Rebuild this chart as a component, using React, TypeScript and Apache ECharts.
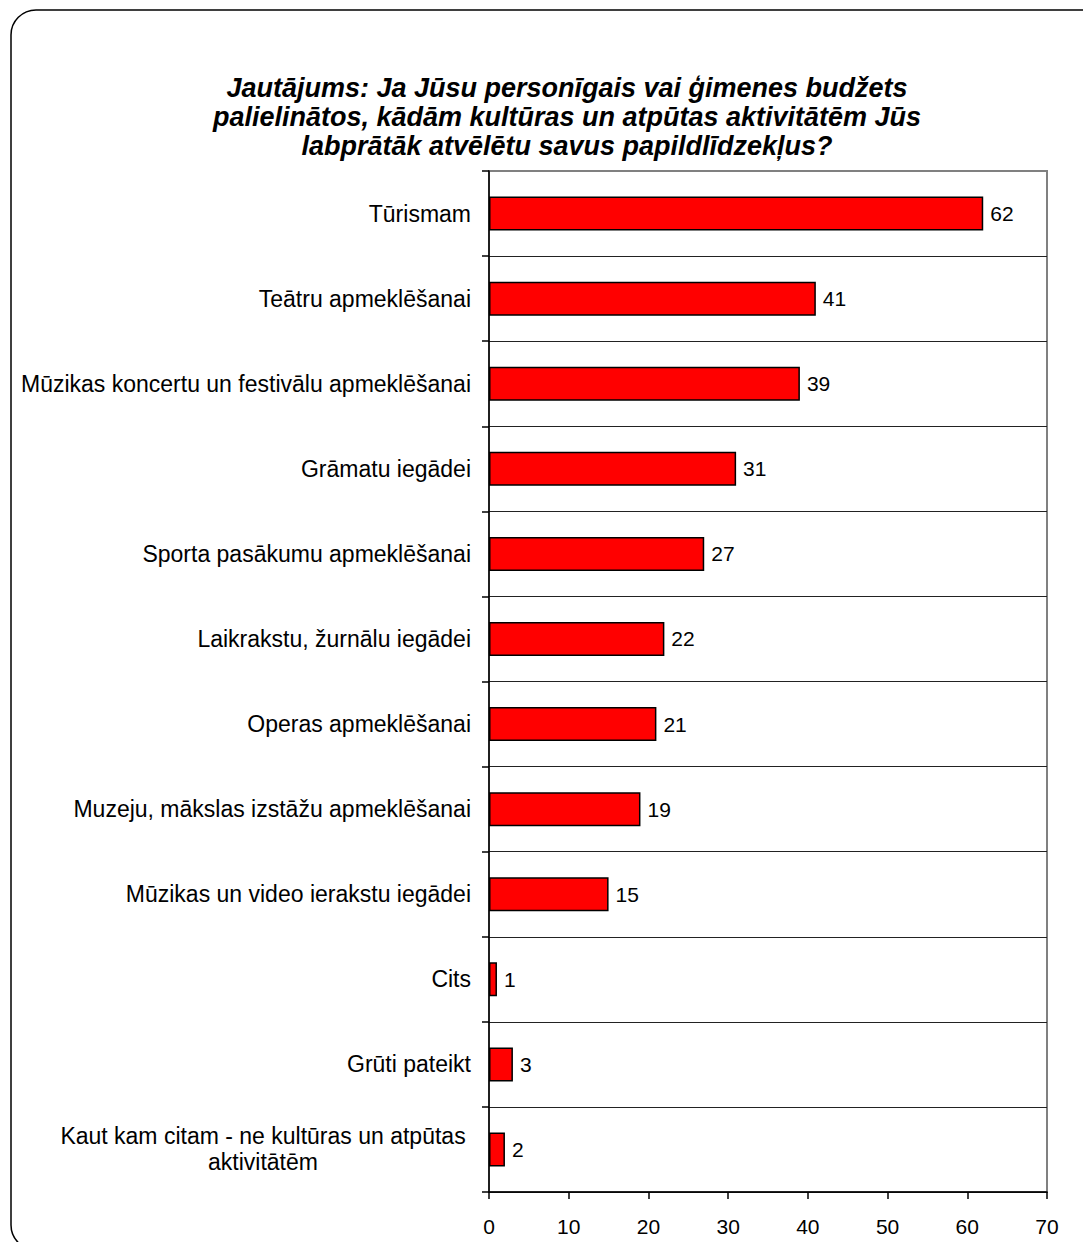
import React, { useEffect, useRef } from "react";
import * as echarts from "echarts";

const categories: string[] = [
  "Tūrismam",
  "Teātru apmeklēšanai",
  "Mūzikas koncertu un festivālu apmeklēšanai",
  "Grāmatu iegādei",
  "Sporta pasākumu apmeklēšanai",
  "Laikrakstu, žurnālu iegādei",
  "Operas apmeklēšanai",
  "Muzeju, mākslas izstāžu apmeklēšanai",
  "Mūzikas un video ierakstu iegādei",
  "Cits",
  "Grūti pateikt",
  "Kaut kam citam - ne kultūras un atpūtas\naktivitātēm",
];

const values: number[] = [62, 41, 39, 31, 27, 22, 21, 19, 15, 1, 3, 2];

const titleText =
  "Jautājums: Ja Jūsu personīgais vai ģimenes budžets\npalielinātos, kādām kultūras un atpūtas aktivitātēm Jūs\nlabprātāk atvēlētu savus papildlīdzekļus?";

const FONT = "'Liberation Sans', Arial, sans-serif";

export default function App() {
  const ref = useRef<HTMLDivElement>(null);

  useEffect(() => {
    if (!ref.current) return;
    const chart = echarts.init(ref.current, undefined, { renderer: "svg" });
    chart.setOption({
      animation: false,
      backgroundColor: "#ffffff",
      textStyle: { fontFamily: FONT },
      graphic: [
        {
          type: "rect",
          z: -10,
          shape: { x: 11, y: 10, width: 1110, height: 1240, r: 25 },
          style: { fill: "none", stroke: "#000", lineWidth: 1.5 },
        },
        {
          type: "text",
          x: 567,
          y: 73,
          style: {
            text: titleText,
            textAlign: "center",
            textVerticalAlign: "top",
            fontFamily: FONT,
            fontStyle: "italic",
            fontWeight: "bold",
            fontSize: 27,
            lineHeight: 29,
            fill: "#000",
          },
        },
      ],
      grid: {
        left: 489,
        top: 171,
        right: 36,
        bottom: 50,
        show: true,
        borderColor: "#808080",
        borderWidth: 2,
        containLabel: false,
      },
      xAxis: {
        type: "value",
        min: 0,
        max: 70,
        interval: 10,
        axisLine: { show: true, lineStyle: { color: "#000", width: 1.5 } },
        axisTick: { show: true, length: 7, lineStyle: { color: "#000", width: 1.5 } },
        splitLine: { show: false },
        axisLabel: { color: "#000", fontSize: 21, margin: 24, fontFamily: FONT },
      },
      yAxis: {
        type: "category",
        inverse: true,
        data: categories,
        axisLine: { show: true, lineStyle: { color: "#000", width: 1.5 } },
        axisTick: { show: true, length: 7, interval: 0, lineStyle: { color: "#000", width: 1.5 } },
        splitLine: {
          show: true,
          interval: 0,
          showMinLine: false,
          lineStyle: { color: "#222", width: 1.2 },
        },
        axisLabel: {
          color: "#000",
          fontSize: 23,
          fontFamily: FONT,
          margin: 18,
          interval: 0,
          formatter: (v: string) =>
            v.indexOf("\n") >= 0
              ? v
                  .split("\n")
                  .map((s) => `{c|${s}}`)
                  .join("\n")
              : v,
          rich: {
            c: {
              width: 416,
              align: "center",
              fontSize: 23,
              lineHeight: 26,
              fontFamily: FONT,
              color: "#000",
            },
          },
        },
      },
      series: [
        {
          type: "bar",
          data: values,
          barWidth: 34,
          itemStyle: { color: "#ff0000", borderColor: "#000", borderWidth: 1.5 },
          label: {
            show: true,
            position: "right",
            distance: 7,
            color: "#000",
            fontSize: 21,
            fontFamily: FONT,
          },
        },
      ],
    });
    return () => chart.dispose();
  }, []);

  return (
    <div
      ref={ref}
      style={{ position: "absolute", left: 0, top: 0, width: 1083, height: 1242 }}
    />
  );
}
